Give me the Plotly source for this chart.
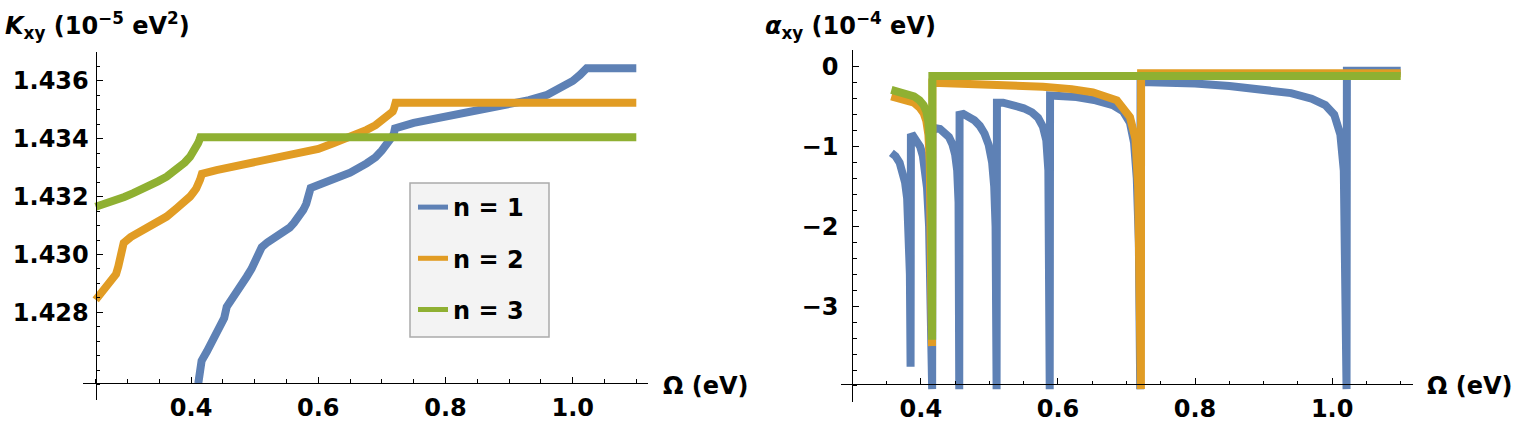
import plotly.graph_objects as go

W, H = 1515, 428
FONT = "DejaVu Sans"
C1, C2, C3 = "#5E81B5", "#E19C24", "#8FB032"

# ---------------- data: K_xy (10^-5 eV^2) vs Omega (eV) ----------------
k1_x = [0.4113, 0.4140, 0.4165, 0.4250, 0.4349, 0.4450, 0.4520, 0.4560, 0.4630, 0.4700, 0.4790, 0.4874,
        0.4950, 0.5000, 0.5040, 0.5070, 0.5110, 0.5200, 0.5300, 0.5450, 0.5550, 0.5620, 0.5700, 0.5764,
        0.5810, 0.5840, 0.5880, 0.6000, 0.6236, 0.6500, 0.6760, 0.6900, 0.7000, 0.7080, 0.7127,
        0.7170, 0.7190, 0.7206, 0.7500, 0.8019, 0.8400, 0.8805, 0.9313, 0.9600, 0.9852, 1.0000,
        1.0115, 1.0180, 1.0220, 1.1000]
k1_y = [1.42554, 1.42617, 1.42632, 1.42665, 1.42704, 1.42745, 1.42780, 1.42819, 1.42845, 1.42868, 1.42895, 1.42923,
        1.42950, 1.42972, 1.42990, 1.43005, 1.43025, 1.43042, 1.43055, 1.43075, 1.43093, 1.43110, 1.43130, 1.43154,
        1.43175, 1.43195, 1.43230, 1.43240, 1.43258, 1.43283, 1.43315, 1.43336, 1.43360, 1.43380, 1.43396,
        1.43410, 1.43420, 1.43436, 1.43455, 1.43477, 1.43493, 1.43511, 1.43534, 1.43552, 1.43580, 1.43600,
        1.43621, 1.43635, 1.43644, 1.43644]

k2_x = [0.2500, 0.2560, 0.2620, 0.2700, 0.2777, 0.2820, 0.2855, 0.2895, 0.2920, 0.2940, 0.3050, 0.3200,
        0.3354, 0.3616, 0.3774, 0.3900, 0.3983, 0.4040, 0.4080, 0.4140, 0.4170, 0.4400, 0.4664, 0.5189,
        0.5712, 0.6000, 0.6236, 0.6500, 0.6761, 0.6900, 0.7000, 0.7080, 0.7127, 0.7170, 0.7190, 0.7215, 1.1000]
k2_y = [1.42843, 1.42860, 1.42877, 1.42895, 1.42912, 1.42932, 1.42958, 1.42995, 1.43025, 1.43040, 1.43060, 1.43078,
        1.43096, 1.43131, 1.43160, 1.43180, 1.43200, 1.43216, 1.43228, 1.43258, 1.43279, 1.43292, 1.43304, 1.43327,
        1.43350, 1.43365, 1.43385, 1.43405, 1.43431, 1.43447, 1.43462, 1.43474, 1.43482, 1.43494, 1.43505, 1.43525, 1.43525]

k3_x = [0.2500, 0.2650, 0.2800, 0.2950, 0.3091, 0.3220, 0.3350, 0.3480, 0.3616, 0.3720, 0.3800, 0.3900,
        0.3983, 0.4030, 0.4060, 0.4090, 0.4110, 0.4130, 0.4145, 1.1000]
k3_y = [1.43165, 1.43175, 1.43187, 1.43199, 1.43212, 1.43224, 1.43238, 1.43253, 1.43269, 1.43284, 1.43300, 1.43318,
        1.43338, 1.43352, 1.43365, 1.43376, 1.43385, 1.43396, 1.43405, 1.43405]

# ---------------- data: alpha_xy (10^-4 eV) vs Omega (eV) ----------------
a1_x = [0.357, 0.363, 0.369, 0.374, 0.377, 0.380, 0.382, 0.384, 0.385,
        0.3855, 0.389, 0.394, 0.399, 0.403, 0.406, 0.409, 0.412, 0.414, 0.4165,
        0.4168, 0.421, 0.428, 0.435, 0.441, 0.446, 0.450, 0.453, 0.455, 0.456,
        0.4565, 0.462, 0.470, 0.478, 0.486, 0.493, 0.499, 0.504, 0.507, 0.509, 0.5105,
        0.511, 0.520, 0.535, 0.550, 0.562, 0.571, 0.578, 0.583, 0.586, 0.588,
        0.5885, 0.600, 0.627, 0.655, 0.680, 0.695, 0.705, 0.711, 0.715, 0.718, 0.720,
        0.7205, 0.740, 0.800, 0.850, 0.900, 0.940, 0.970, 0.990, 1.003, 1.012, 1.017, 1.021,
        1.0215, 1.100]
a1_y = [-1.08, -1.12, -1.20, -1.32, -1.45, -1.65, -1.95, -2.60, -3.76,
        -0.88, -0.87, -0.92, -1.00, -1.12, -1.27, -1.52, -2.00, -2.70, -4.04,
        -0.82, -0.77, -0.78, -0.82, -0.88, -0.97, -1.10, -1.30, -1.70, -4.04,
        -0.60, -0.59, -0.62, -0.67, -0.74, -0.84, -0.98, -1.20, -1.50, -2.00, -4.04,
        -0.45, -0.45, -0.48, -0.52, -0.57, -0.64, -0.75, -0.92, -1.30, -4.04,
        -0.36, -0.36, -0.38, -0.42, -0.48, -0.56, -0.70, -0.95, -1.40, -2.20, -4.04,
        -0.19, -0.19, -0.21, -0.24, -0.28, -0.33, -0.40, -0.48, -0.60, -0.85, -1.30, -4.04,
        -0.05, -0.05]

a2_x = [0.357, 0.375, 0.390, 0.398, 0.404, 0.408, 0.411, 0.413, 0.415, 0.4163,
        0.4168, 0.457, 0.520, 0.578, 0.620, 0.651, 0.686, 0.705, 0.713, 0.717, 0.721,
        0.7213, 1.100]
a2_y = [-0.37, -0.40, -0.45, -0.51, -0.58, -0.68, -0.85, -1.20, -2.00, -3.50,
        -0.20, -0.21, -0.23, -0.25, -0.28, -0.32, -0.42, -0.63, -0.90, -1.50, -4.04,
        -0.08, -0.08]

a3_x = [0.357, 0.375, 0.390, 0.398, 0.404, 0.408, 0.411, 0.4135, 0.4155, 0.4165, 0.4168, 1.100]
a3_y = [-0.29, -0.32, -0.37, -0.42, -0.48, -0.56, -0.70, -1.00, -1.80, -3.42, -0.115, -0.115]

names = ["n = 1", "n = 2", "n = 3"]
colors = [C1, C2, C3]

# tick labels
x_ticks = [0.4, 0.6, 0.8, 1.0]
k_ticks = [1.428, 1.430, 1.432, 1.434, 1.436]
a_ticks = [-3, -2, -1, 0]

# ---------------- layout geometry (pixels) ----------------
def px(x):
    return x / W

def py(y):
    return 1 - y / H

L_x0, L_sx = 0.25, 636.0
L_y0, L_sy = 1.425565, 28913.0
L_box = (83.3, 648.3, 51.7, 400.0)
L_cross = (95.7, 382.7)
R_x0, R_sx = 0.30, 685.5
R_y0, R_sy = -3.979, 79.8
R_box = (841.0, 1412.7, 50.0, 401.7)
R_cross = (852.3, 384.3)

def rng_x(box, cross, x0, sx):
    return [x0 - (cross[0] - box[0]) / sx, x0 + (box[1] - cross[0]) / sx]

def rng_y(box, cross, y0, sy):
    return [y0 - (box[3] - cross[1]) / sy, y0 + (cross[1] - box[2]) / sy]

fig = go.Figure()
for xs, ys, c in zip([k1_x, k2_x, k3_x], [k1_y, k2_y, k3_y], colors):
    fig.add_trace(go.Scatter(x=xs, y=ys, mode="lines", line=dict(color=c, width=8),
                             xaxis="x", yaxis="y", showlegend=False, hoverinfo="skip"))
for xs, ys, c in zip([a1_x, a2_x, a3_x], [a1_y, a2_y, a3_y], colors):
    fig.add_trace(go.Scatter(x=xs, y=ys, mode="lines", line=dict(color=c, width=8),
                             xaxis="x2", yaxis="y2", showlegend=False, hoverinfo="skip"))
for i, (n, c) in enumerate(zip(names, colors)):
    fig.add_trace(go.Scatter(x=[None], y=[None], mode="lines", name=n,
                             line=dict(color=c, width=5), xaxis="x", yaxis="y",
                             legendgroup=str(i)))

FS = 24
tickfont = dict(family=FONT, size=FS, color="black", weight="bold")
common = dict(showgrid=False, zeroline=False, showline=True, linecolor="black", linewidth=1.3,
              ticks="inside", ticklen=6, tickwidth=1.3, tickcolor="black", tickfont=tickfont,
              anchor="free", tickmode="array")

def minor(d, t0):
    return dict(tickmode="linear", dtick=d, tick0=t0, ticks="inside", ticklen=3.5,
                tickcolor="black", tickwidth=1.1)

fig.update_layout(
    width=W, height=H, margin=dict(l=0, r=0, t=0, b=0),
    paper_bgcolor="white", plot_bgcolor="white",
    xaxis=dict(domain=[px(L_box[0]), px(L_box[1])], range=rng_x(L_box, L_cross, L_x0, L_sx),
               position=py(L_cross[1]), tickvals=x_ticks, ticktext=[f"{v:.1f}" for v in x_ticks],
               minor=minor(0.05, 0), ticklabelstandoff=3, **common),
    yaxis=dict(domain=[py(L_box[3]), py(L_box[2])], range=rng_y(L_box, L_cross, L_y0, L_sy),
               position=px(L_cross[0]), tickvals=k_ticks, ticktext=[f"{v:.3f}" for v in k_ticks],
               minor=minor(0.0005, 1.428), ticklabelstandoff=2, **common),
    xaxis2=dict(domain=[px(R_box[0]), px(R_box[1])], range=rng_x(R_box, R_cross, R_x0, R_sx),
                position=py(R_cross[1]), tickvals=x_ticks, ticktext=[f"{v:.1f}" for v in x_ticks],
                minor=minor(0.05, 0), ticklabelstandoff=3, **common),
    yaxis2=dict(domain=[py(R_box[3]), py(R_box[2])], range=rng_y(R_box, R_cross, R_y0, R_sy),
                position=px(R_cross[0]), tickvals=a_ticks,
                ticktext=[("−" + str(-v)) if v < 0 else str(v) for v in a_ticks],
                minor=minor(0.2, 0), ticklabelstandoff=9, **common),
    legend=dict(x=px(413), y=py(185), xanchor="left", yanchor="top",
                bgcolor="rgba(0,0,0,0)", borderwidth=0, tracegroupgap=17,
                font=dict(family=FONT, size=FS, color="black", weight="bold")),
    shapes=[dict(type="rect", xref="paper", yref="paper", x0=px(410), x1=px(549),
                 y0=py(337), y1=py(183), fillcolor="#f3f3f3",
                 line=dict(color="#aaaaaa", width=1.5), layer="below")],
    annotations=[
        dict(text="<i>K</i><sub>xy</sub> (10<sup>−5</sup> eV<sup>2</sup>)", xref="paper", yref="paper",
             x=px(3), y=py(26), xanchor="left", yanchor="middle", showarrow=False,
             font=dict(family=FONT, size=FS, color="black", weight="bold")),
        dict(text="<i>α</i><sub>xy</sub> (10<sup>−4</sup> eV)", xref="paper", yref="paper",
             x=px(763), y=py(26), xanchor="left", yanchor="middle", showarrow=False,
             font=dict(family=FONT, size=FS, color="black", weight="bold")),
        dict(text="Ω (eV)", xref="paper", yref="paper", x=px(661), y=py(386),
             xanchor="left", yanchor="middle", showarrow=False,
             font=dict(family=FONT, size=FS, color="black", weight="bold")),
        dict(text="Ω (eV)", xref="paper", yref="paper", x=px(1425), y=py(386),
             xanchor="left", yanchor="middle", showarrow=False,
             font=dict(family=FONT, size=FS, color="black", weight="bold")),
    ],
)

fig.write_html("out.html")
